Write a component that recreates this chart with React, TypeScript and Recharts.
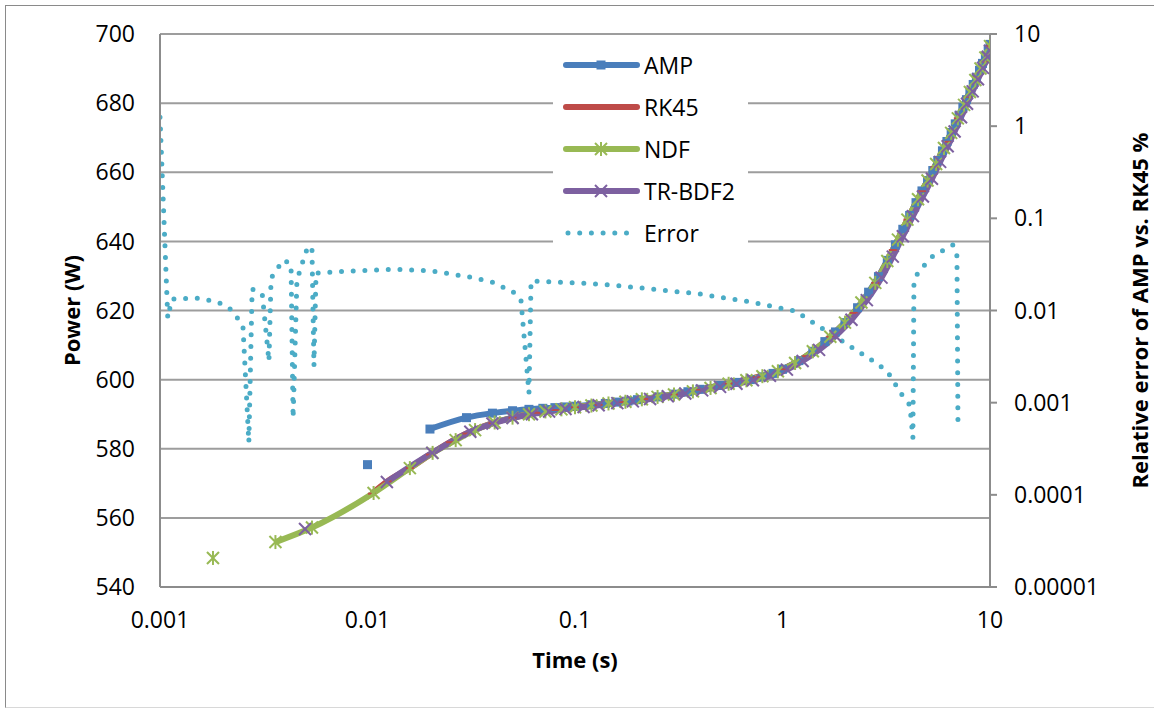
import { LineChart, Line, XAxis, YAxis, CartesianGrid, Legend, Label } from 'recharts'

const FONT = '"Open Sans", "DejaVu Sans", sans-serif'
const AXIS_GREY = '#8c8c8c'
const GRID_GREY = '#9d9d9d'

const timeTicks = [0.001, 0.01, 0.1, 1, 10]
const timeLabels = ['0.001', '0.01', '0.1', '1', '10']
const powerTicks = [540, 560, 580, 600, 620, 640, 660, 680, 700]
const errorTicks = [0.00001, 0.0001, 0.001, 0.01, 0.1, 1, 10]
const errorLabels = ['0.00001', '0.0001', '0.001', '0.01', '0.1', '1', '10']

// AMP: fixed 0.01 s steps, first point stands alone
const ampTime = [0.01, 0.015, 0.02, 0.03, 0.04, 0.05, 0.06, 0.07, 0.08, 0.09, 0.1, 0.12, 0.14, 0.16, 0.18, 0.2, 0.25, 0.3, 0.35, 0.4, 0.5, 0.6, 0.7, 0.8, 0.9, 1, 1.2, 1.4, 1.6, 1.8, 2, 2.3, 2.6, 2.9, 3.2, 3.5, 3.8, 4.1, 4.4, 4.7, 5, 5.3, 5.6, 5.9, 6.2, 6.5, 6.8, 7.1, 7.4, 7.7, 8, 8.3, 8.6, 8.9, 9.2, 9.5, 9.8, 10]
const ampPower = [575.4, null, 585.7, 589.0, 590.3, 591.0, 591.4, 591.7, 591.9, 592.1, 592.3, 592.7, 593.1, 593.5, 593.8, 594.2, 595.0, 595.8, 596.5, 597.2, 598.3, 599.2, 600.0, 600.8, 601.8, 603.0, 605.5, 608.2, 611.0, 613.8, 616.5, 620.8, 625.3, 629.8, 634.5, 639.0, 643.5, 647.5, 651.2, 654.6, 657.6, 660.5, 663.4, 666.2, 668.9, 671.5, 674.0, 676.5, 678.8, 681.0, 683.2, 685.4, 687.5, 689.5, 691.5, 693.5, 695.5, 697.0]

const rk45Time = [0.0105, 0.0125, 0.016, 0.02, 0.025, 0.03, 0.04, 0.05, 0.065, 0.08, 0.1, 0.13, 0.17, 0.22, 0.3, 0.4, 0.55, 0.75, 1, 1.3, 1.7, 2.2, 2.8, 3.4, 4, 4.7, 5.4, 6.2, 7, 7.8, 8.6, 9.3, 10]
const rk45Power = [567.0, 570.6, 574.4, 578.3, 581.9, 584.4, 587.4, 589.0, 590.4, 591.2, 592.0, 592.7, 593.5, 594.4, 595.7, 597.1, 598.9, 600.7, 603.0, 606.8, 612.4, 619.3, 628.0, 637.5, 646.3, 654.5, 661.5, 668.8, 675.6, 681.8, 687.5, 692.0, 696.5]

// NDF: first point stands alone
const ndfTime = [0.0018, 0.0025, 0.0036, 0.0054, 0.0107, 0.016, 0.0206, 0.0266, 0.033, 0.041, 0.05, 0.06, 0.072, 0.086, 0.1, 0.12, 0.145, 0.175, 0.21, 0.25, 0.3, 0.37, 0.45, 0.55, 0.67, 0.8, 0.95, 1.15, 1.4, 1.7, 2, 2.4, 2.8, 3.2, 3.6, 4, 4.5, 5, 5.5, 6, 6.5, 7, 7.5, 8, 8.5, 9, 9.5, 10]
const ndfPower = [548.4, null, 553.0, 557.2, 567.2, 574.4, 578.8, 582.5, 585.4, 587.6, 589.0, 590.0, 590.8, 591.4, 592.0, 592.5, 593.1, 593.6, 594.3, 595.0, 595.7, 596.6, 597.6, 598.8, 599.8, 601.0, 602.4, 604.8, 608.2, 612.4, 616.5, 622.3, 628.0, 634.3, 640.5, 646.3, 652.2, 657.6, 662.4, 667.0, 671.4, 675.6, 679.5, 683.2, 686.7, 690.0, 693.2, 696.5]

// TR-BDF2: first point stands alone
const bdfTime = [0.005, 0.008, 0.0124, 0.0205, 0.0313, 0.04, 0.05, 0.062, 0.075, 0.09, 0.11, 0.13, 0.16, 0.19, 0.23, 0.28, 0.34, 0.41, 0.5, 0.6, 0.72, 0.87, 1.05, 1.25, 1.5, 1.8, 2.15, 2.55, 3, 3.4, 3.8, 4.25, 4.75, 5.25, 5.75, 6.25, 6.75, 7.25, 7.75, 8.25, 8.75, 9.25, 9.75, 10]
const bdfPower = [556.8, null, 570.4, 578.8, 584.9, 587.3, 588.9, 590.0, 590.8, 591.5, 592.1, 592.6, 593.2, 593.7, 594.4, 595.2, 596.0, 596.9, 597.9, 598.8, 599.8, 601.1, 602.9, 605.4, 608.6, 612.6, 617.3, 623.0, 629.5, 635.6, 641.5, 647.3, 653.0, 658.1, 663.0, 667.5, 671.8, 675.9, 679.8, 683.4, 686.9, 690.2, 693.4, 695.2]

// relative error of AMP vs. RK45, %
const errTime = [0.001, 0.00109, 0.00114, 0.00149, 0.0019, 0.00222, 0.00251, 0.00268, 0.00278, 0.00311, 0.00335, 0.00343, 0.00392, 0.00428, 0.00438, 0.00457, 0.00494, 0.00517, 0.0054, 0.00552, 0.00565, 0.00824, 0.013, 0.02, 0.0312, 0.0398, 0.0503, 0.0549, 0.06, 0.0614, 0.103, 0.152, 0.257, 0.4, 0.697, 1.15, 2.11, 2.64, 3.19, 3.77, 4.11, 4.25, 4.3, 4.5, 5.31, 6.63, 6.93, 7.01]
const errValue = [1.25, 0.0083, 0.0133, 0.0137, 0.0124, 0.0101, 0.0068, 0.00037, 0.0171, 0.0151, 0.0028, 0.0225, 0.0353, 0.0319, 0.00068, 0.0214, 0.0371, 0.0501, 0.0465, 0.0025, 0.0255, 0.0268, 0.028, 0.027, 0.0231, 0.0204, 0.0159, 0.013, 0.00127, 0.0209, 0.0199, 0.0189, 0.0167, 0.0151, 0.0124, 0.00987, 0.00412, 0.00298, 0.00221, 0.00121, 0.00094, 0.000414, 0.0199, 0.0262, 0.039, 0.0514, 0.039, 0.000545]

const pts = (ts: number[], vs: (number | null)[]) => ts.map((t, i) => ({ t, p: vs[i] }))

const series = [
  { name: 'AMP', color: '#4A7EBB', marker: 'square', data: pts(ampTime, ampPower) },
  { name: 'RK45', color: '#BE4B48', marker: 'dash', data: pts(rk45Time, rk45Power) },
  { name: 'NDF', color: '#98B954', marker: 'star', data: pts(ndfTime, ndfPower) },
  { name: 'TR-BDF2', color: '#7D60A0', marker: 'cross', data: pts(bdfTime, bdfPower) },
]
const ERR_COLOR = '#4BACC6'

function drawMarker(kind: string, cx: number, cy: number, color: string, key?: string) {
  if (kind === 'square') return <rect key={key} x={cx - 4.5} y={cy - 4.5} width={9} height={9} fill={color} />
  if (kind === 'dash') return <line key={key} x1={cx - 4} x2={cx + 4} y1={cy} y2={cy} stroke={color} strokeWidth={2} />
  if (kind === 'star')
    return (
      <g key={key} stroke={color} strokeWidth={2}>
        <line x1={cx} x2={cx} y1={cy - 7} y2={cy + 7} />
        <line x1={cx - 6} y1={cy - 6} x2={cx + 6} y2={cy + 6} />
        <line x1={cx - 6} y1={cy + 6} x2={cx + 6} y2={cy - 6} />
      </g>
    )
  if (kind === 'cross')
    return (
      <g key={key} stroke={color} strokeWidth={2}>
        <line x1={cx - 6} y1={cy - 6} x2={cx + 6} y2={cy + 6} />
        <line x1={cx - 6} y1={cy + 6} x2={cx + 6} y2={cy - 6} />
      </g>
    )
  return <g key={key} />
}

const dotFor = (kind: string, color: string) => (props: any) => {
  const { cx, cy, index } = props
  if (cx == null || cy == null || Number.isNaN(cy)) return <g key={`n-${index}`} />
  return drawMarker(kind, cx, cy, color, `${kind}-${index}`)
}

function LegendBox() {
  return (
    <div style={{ width: 195, background: '#fff', fontFamily: FONT }}>
      {series.map(s => (
        <div key={s.name} style={{ height: 42, display: 'flex', alignItems: 'center' }}>
          <svg width={91} height={20} style={{ display: 'block' }}>
            <line x1={13} x2={84} y1={10} y2={10} stroke={s.color} strokeWidth={6} strokeLinecap="round" />
            {drawMarker(s.marker, 48, 10, s.color)}
          </svg>
          <span style={{ fontSize: 23, color: '#000' }}>{s.name}</span>
        </div>
      ))}
      <div style={{ height: 42, display: 'flex', alignItems: 'center' }}>
        <svg width={91} height={20} style={{ display: 'block' }}>
          <line x1={15} x2={80} y1={10} y2={10} stroke={ERR_COLOR} strokeWidth={5} strokeLinecap="round" strokeDasharray="0 11.7" />
        </svg>
        <span style={{ fontSize: 23, color: '#000' }}>Error</span>
      </div>
    </div>
  )
}

const tickStyle = { fill: '#000', fontSize: 23, fontFamily: FONT }
const titleStyle = { fill: '#000', fontSize: 22, fontWeight: 700, fontFamily: FONT, textAnchor: 'middle' as const }

export default function App() {
  return (
    <div style={{ position: 'absolute', left: 0, top: 0, width: 1154, height: 709, overflow: 'hidden', background: '#fff', fontFamily: FONT }}>
      <div style={{ position: 'absolute', left: 5, top: 5, width: 1200, height: 701, borderLeft: '1px solid #8a8a8a', borderTop: '1px solid #8a8a8a', borderBottom: '1px solid #d8d8d8' }} />
      <div style={{ position: 'absolute', left: 0, top: 0 }}>
        <LineChart width={1154} height={709} margin={{ top: 34, right: 0, bottom: 0, left: 60 }}>
          <CartesianGrid yAxisId="left" vertical={false} stroke={GRID_GREY} strokeWidth={2} />
          <XAxis
            dataKey="t"
            type="number"
            scale="log"
            domain={[0.001, 10]}
            ticks={timeTicks}
            interval={0}
            allowDataOverflow
            height={122}
            tickLine={false}
            tickSize={0}
            tickMargin={25}
            axisLine={{ stroke: AXIS_GREY, strokeWidth: 2 }}
            tick={tickStyle}
            tickFormatter={(v: number) => timeLabels[timeTicks.indexOf(v)] ?? String(v)}
          >
            <Label value="Time (s)" position="insideBottom" offset={41} style={titleStyle} />
          </XAxis>
          <YAxis
            yAxisId="left"
            type="number"
            domain={[540, 700]}
            ticks={powerTicks}
            interval={0}
            allowDataOverflow
            width={100}
            tickLine={false}
            tickSize={0}
            tickMargin={25}
            axisLine={{ stroke: AXIS_GREY, strokeWidth: 2 }}
            tick={tickStyle}
          >
            <Label value="Power (W)" angle={-90} position="insideLeft" offset={12} style={titleStyle} />
          </YAxis>
          <YAxis
            yAxisId="right"
            orientation="right"
            type="number"
            scale="log"
            domain={[0.00001, 10]}
            ticks={errorTicks}
            interval={0}
            allowDataOverflow
            width={164}
            tickSize={7}
            tickMargin={17}
            tickLine={{ stroke: AXIS_GREY, strokeWidth: 2 }}
            axisLine={{ stroke: AXIS_GREY, strokeWidth: 2 }}
            tick={{ ...tickStyle, textAnchor: 'start' }}
            tickFormatter={(v: number) => errorLabels[errorTicks.findIndex(e => Math.abs(e - v) < e * 1e-6)] ?? String(v)}
          >
            <Label value="Relative error of AMP vs. RK45 %" angle={-90} position="insideRight" offset={14} style={titleStyle} />
          </YAxis>
          {series.map(s => (
            <Line
              key={s.name}
              yAxisId="left"
              data={s.data}
              dataKey="p"
              name={s.name}
              type="monotone"
              stroke={s.color}
              strokeWidth={6}
              dot={dotFor(s.marker, s.color)}
              activeDot={false}
              connectNulls={false}
              isAnimationActive={false}
            />
          ))}
          <Line
            yAxisId="right"
            data={pts(errTime, errValue)}
            dataKey="p"
            name="Error"
            type="linear"
            stroke={ERR_COLOR}
            strokeWidth={5}
            strokeLinecap="round"
            strokeDasharray="0 11.7"
            dot={false}
            activeDot={false}
            isAnimationActive={false}
          />
          <Legend
            layout="vertical"
            align="center"
            verticalAlign="middle"
            wrapperStyle={{ left: 553, top: 44, width: 195, height: 210 }}
            content={() => <LegendBox />}
          />
        </LineChart>
      </div>
    </div>
  )
}
